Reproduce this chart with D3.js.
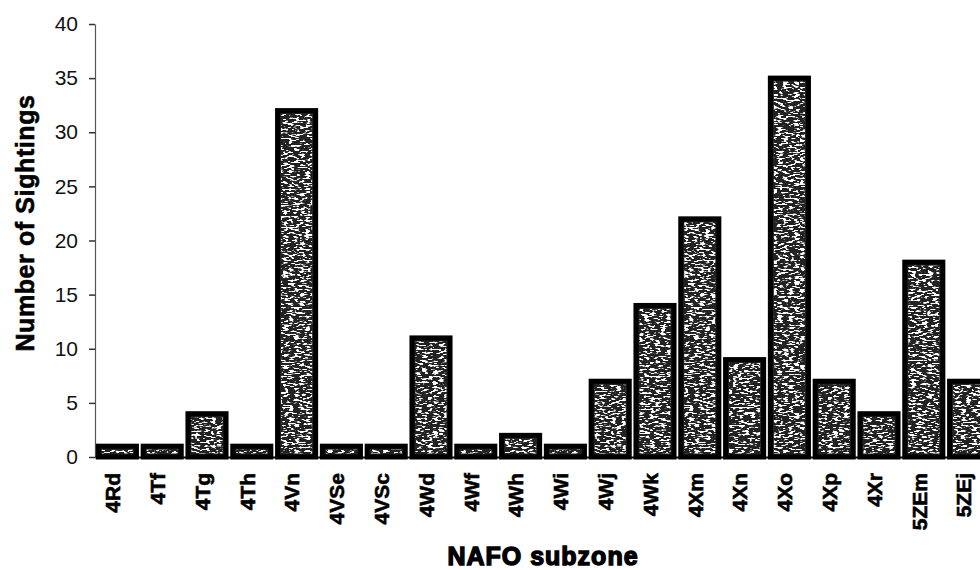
<!DOCTYPE html>
<html>
<head>
<meta charset="utf-8">
<script src="https://cdn.jsdelivr.net/npm/d3@7"></script>
<style>
  html, body { margin: 0; padding: 0; background: #fff; }
  svg { display: block; font-family: "Liberation Sans", Arial, sans-serif; }
</style>
</head>
<body>
<div id="chart"></div>
<script>
const subzones = ["4Rd", "4Tf", "4Tg", "4Th", "4Vn", "4VSe", "4VSc", "4Wd", "4Wf", "4Wh",
  "4Wi", "4Wj", "4Wk", "4Xm", "4Xn", "4Xo", "4Xp", "4Xr", "5ZEm", "5ZEj"];
const sightings = [1, 1, 4, 1, 32, 1, 1, 11, 1, 2, 1, 7, 14, 22, 9, 35, 7, 4, 18, 7];
const yTicks = [0, 5, 10, 15, 20, 25, 30, 35, 40];

const width = 980;
const height = 570;
const plotLeft = 95;
const plotRight = 991; // the last bar runs off the page, as in the scan
const plotTop = 24;
const plotBottom = 457;
const stroke = 5;

const data = subzones.map((name, i) => ({ name: name, value: sightings[i] }));

const svg = d3.select("#chart").append("svg")
  .attr("width", width)
  .attr("height", height);

const defs = svg.append("defs");

// grainy photocopy texture for the inside of the bars
const grain = defs.append("filter")
  .attr("id", "grain")
  .attr("x", 0).attr("y", 0)
  .attr("width", "100%").attr("height", "100%");
grain.append("feTurbulence")
  .attr("type", "fractalNoise")
  .attr("baseFrequency", "0.18 0.55")
  .attr("numOctaves", 2)
  .attr("seed", 4);
grain.append("feColorMatrix")
  .attr("type", "matrix")
  .attr("values", "0 0 0 0 1  0 0 0 0 1  0 0 0 0 1  0 0 0 14 -7.35");

const speck = defs.append("pattern")
  .attr("id", "speck")
  .attr("patternUnits", "userSpaceOnUse")
  .attr("width", 400)
  .attr("height", 460);
speck.append("rect")
  .attr("width", 400)
  .attr("height", 460)
  .attr("fill", "#fff")
  .attr("filter", "url(#grain)");

const x = d3.scaleBand()
  .domain(subzones)
  .range([plotLeft, plotRight])
  .paddingInner(0.15)
  .paddingOuter(0.075);

const y = d3.scaleLinear()
  .domain([0, 40])
  .range([plotBottom, plotTop]);

// y axis
const yAxis = svg.append("g")
  .attr("transform", `translate(${plotLeft},0)`)
  .attr("font-size", 21)
  .call(d3.axisLeft(y).tickValues(yTicks).tickSize(6).tickSizeOuter(0).tickPadding(11));
yAxis.attr("font-size", 21).attr("font-family", "Liberation Sans, Arial, sans-serif");
yAxis.select(".domain").attr("stroke", "#555").attr("stroke-width", 1.2);
yAxis.selectAll(".tick line").attr("stroke", "#333").attr("stroke-width", 1.5);
yAxis.selectAll(".tick text")
  .style("font-size", "21px")
  .attr("fill", "#111");

// x axis
const xAxis = svg.append("g")
  .attr("transform", `translate(0,${plotBottom})`)
  .call(d3.axisBottom(x).tickSize(0).tickSizeOuter(0));
xAxis.select(".domain").attr("stroke", "#000").attr("stroke-width", 2);
xAxis.selectAll(".tick text")
  .style("font-size", "21px")
  .attr("font-weight", "bold")
  .attr("font-family", "Liberation Sans, Arial, sans-serif")
  .attr("fill", "#000")
  .attr("stroke", "#000")
  .attr("stroke-width", 0.6)
  .attr("text-anchor", "end")
  .attr("transform", "translate(0,16) rotate(-90)")
  .attr("x", 0)
  .attr("y", 0)
  .attr("dy", "0.13em");

// bars
const bars = svg.append("g").attr("class", "bars");

bars.selectAll("rect.bar")
  .data(data)
  .enter()
  .append("rect")
  .attr("class", "bar")
  .attr("x", d => x(d.name))
  .attr("y", d => y(d.value))
  .attr("width", x.bandwidth())
  .attr("height", d => y(0) - y(d.value))
  .attr("fill", "#222")
  .attr("stroke", "#000")
  .attr("stroke-width", stroke);

bars.selectAll("rect.grain")
  .data(data)
  .enter()
  .append("rect")
  .attr("class", "grain")
  .attr("x", d => x(d.name) + stroke / 2 + 1)
  .attr("y", d => y(d.value) + stroke / 2 + 1)
  .attr("width", x.bandwidth() - stroke - 2)
  .attr("height", d => Math.max(0, y(0) - y(d.value) - stroke - 2))
  .attr("fill", "url(#speck)");

// axis titles
svg.append("text")
  .attr("transform", `translate(34,223) rotate(-90)`)
  .attr("text-anchor", "middle")
  .attr("font-size", 25)
  .attr("font-weight", "bold")
  .attr("fill", "#000")
  .attr("stroke", "#000")
  .attr("stroke-width", 0.6)
  .attr("letter-spacing", 0.6)
  .text("Number of Sightings");

svg.append("text")
  .attr("x", (plotLeft + plotRight) / 2)
  .attr("y", 565)
  .attr("text-anchor", "middle")
  .attr("font-size", 25)
  .attr("font-weight", "bold")
  .attr("fill", "#000")
  .attr("stroke", "#000")
  .attr("stroke-width", 1.4)
  .attr("letter-spacing", 1)
  .text("NAFO subzone");
</script>
</body>
</html>
